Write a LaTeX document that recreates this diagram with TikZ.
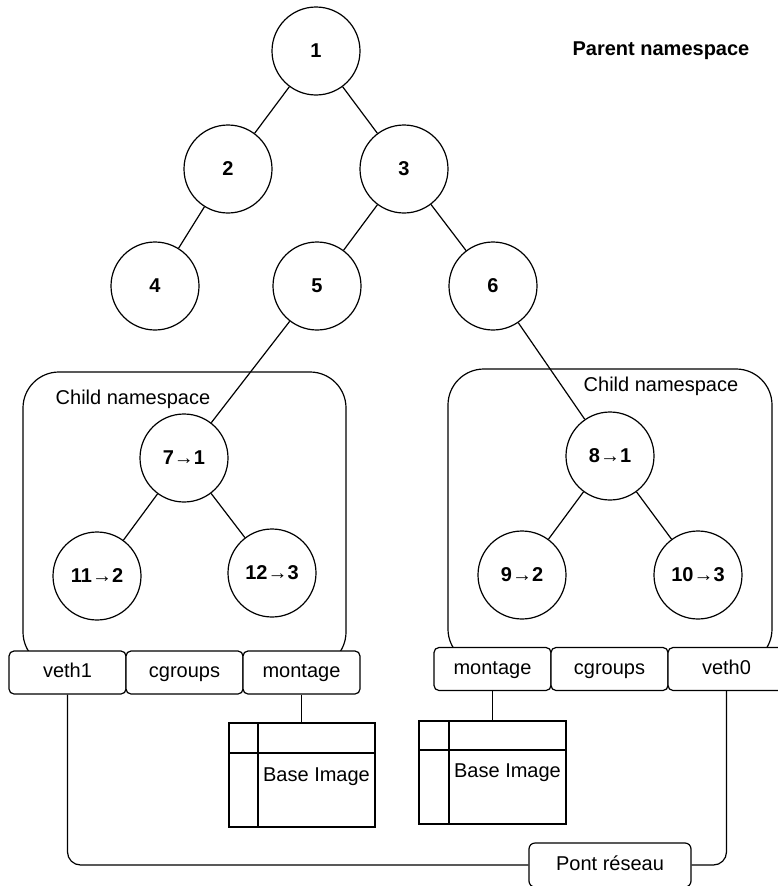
\documentclass[tikz,border=0pt]{standalone}
\usepackage{fontspec}
\setmainfont{Liberation Sans}
\begin{document}
\begin{tikzpicture}[x=1pt,y=-1pt,line width=1.2pt,
  every node/.style={font=\fontsize{20}{24}\selectfont},
  tnode/.style={draw,circle,minimum size=88pt,inner sep=0pt,font=\fontsize{20}{24}\selectfont\bfseries},
  tabbox/.style={draw,fill=white,rounded corners=5pt,minimum width=117pt,minimum height=43pt,inner sep=0pt,text height=14.5pt,text depth=4.5pt},
  nsbox/.style={draw,rounded corners=36pt},
  edge/.style={draw}]
\useasboundingbox (0,0) rectangle (778,886);
\clip (0,0) rectangle (778,886);
% child namespace boxes
\draw[nsbox] (23,372) rectangle (346,668);
\draw[nsbox] (448,369) rectangle (772,665);
\node (cnsL) at (133,399) {Child namespace};
\node (cnsR) at (661,386) {Child namespace};
\node[font=\fontsize{20}{24}\selectfont\bfseries] (pns) at (661,51) {Parent namespace};
% tree
\node[tnode] (n1) at (316,51) {1};
\node[tnode] (n2) at (228,169) {2};
\node[tnode] (n3) at (404,169) {3};
\node[tnode] (n4) at (155,286) {4};
\node[tnode] (n5) at (317,286) {5};
\node[tnode] (n6) at (493,286) {6};
\node[tnode] (n7) at (184,458) {7→1};
\node[tnode] (n11) at (97,576) {11→2};
\node[tnode] (n12) at (272,573) {12→3};
\node[tnode] (n8) at (610,456) {8→1};
\node[tnode] (n9) at (522,575) {9→2};
\node[tnode] (n10) at (698,575) {10→3};
\draw[edge] (n1) -- (n2);
\draw[edge] (n1) -- (n3);
\draw[edge] (n2) -- (n4);
\draw[edge] (n3) -- (n5);
\draw[edge] (n3) -- (n6);
\draw[edge] (n5) -- (n7);
\draw[edge] (n6) -- (n8);
\draw[edge] (n7) -- (n11);
\draw[edge] (n7) -- (n12);
\draw[edge] (n8) -- (n9);
\draw[edge] (n8) -- (n10);
% tabs
\node[tabbox] (vethL) at (67.5,672.5) {veth1};
\node[tabbox] (cgL) at (184.5,672.5) {cgroups};
\node[tabbox] (montL) at (301.5,672.5) {montage};
\node[tabbox] (montR) at (492.5,669) {montage};
\node[tabbox] (cgR) at (609.5,669) {cgroups};
\node[tabbox] (vethR) at (726.5,669) {veth0};
% base images
\draw (229,723) rectangle (375,827);
\draw (258,723) -- (258,827);
\draw (229,753) -- (375,753);
\node (baseL) at (316.5,777) {Base Image};
\coordinate (baseLtop) at (301.5,723);
\draw (419,721) rectangle (566,824);
\draw (449,721) -- (449,824);
\draw (419,750) -- (566,750);
\node (baseR) at (507.5,773) {Base Image};
\coordinate (baseRtop) at (492.5,721);
\draw[edge] (montL.south) -- (baseLtop);
\draw[edge] (montR.south) -- (baseRtop);
% bridge
\node[draw,rounded corners=6pt,minimum width=162pt,minimum height=44pt,inner sep=0pt,text height=14.5pt,text depth=4.5pt] (pont) at (610,865) {Pont réseau};
\draw[edge,rounded corners=13pt] (vethL.south) |- (pont.west);
\draw[edge,rounded corners=13pt] (vethR.south) |- (pont.east);
\end{tikzpicture}
\end{document}
